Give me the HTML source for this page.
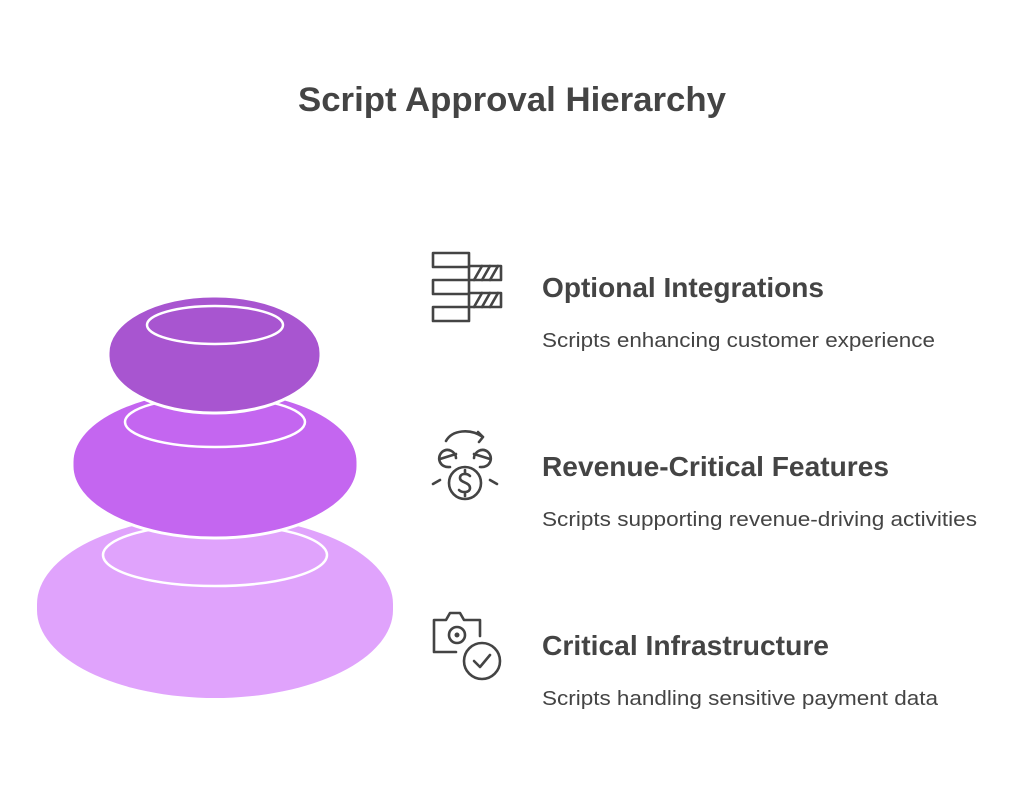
<!DOCTYPE html>
<html><head><meta charset="utf-8"><style>html,body{margin:0;padding:0;background:#fff}svg{display:block}</style></head>
<body>
<svg width="1024" height="789" viewBox="0 0 1024 789" xmlns="http://www.w3.org/2000/svg" font-family="'Liberation Sans', sans-serif">
<rect width="1024" height="789" fill="#fff"/>
<text x="298" y="111" font-size="34" font-weight="bold" fill="#444" textLength="428" lengthAdjust="spacingAndGlyphs">Script Approval Hierarchy</text>

<!-- stack -->
<rect x="37" y="516" width="356" height="182" rx="178" ry="88" fill="#e0a3fc"/>
<ellipse cx="215" cy="555" rx="112" ry="31" fill="none" stroke="#fff" stroke-width="2.5"/>
<rect x="72" y="390" width="286" height="148" rx="142" ry="72" fill="#c466f0" stroke="#fff" stroke-width="3"/>
<ellipse cx="215" cy="422" rx="90" ry="25" fill="none" stroke="#fff" stroke-width="2.5"/>
<rect x="108" y="296" width="213" height="117" rx="105" ry="57" fill="#a855d0" stroke="#fff" stroke-width="3"/>
<ellipse cx="215" cy="325" rx="68" ry="19" fill="none" stroke="#fff" stroke-width="2.5"/>

<!-- icons -->
<g fill="none" stroke="#444" stroke-width="2.6" stroke-linejoin="round" stroke-linecap="round">
  <rect x="433" y="253" width="36" height="14"/>
  <rect x="433" y="280" width="36" height="14"/>
  <rect x="433" y="307" width="36" height="14"/>
  <rect x="469" y="266" width="32" height="14"/>
  <rect x="469" y="293" width="32" height="14"/>
  <path d="M474 280 L482 266 M482 280 L490 266 M490 280 L498 266 M474 307 L482 293 M482 307 L490 293 M490 307 L498 293"/>
  <circle cx="465" cy="483" r="16"/>
  <path d="M470 476 C467 473 460 473 460 478 C460 483 470 482 470 488 C470 493 462 493 459 490 M465 470 V474 M465 492 V496"/>
  <path d="M446 441 C452 430 470 428 483 437 M478 432 L483 437 L479 442"/>
  <path d="M450 467 C440 468 436 458 442 452 C448 447 456 452 456 458 M440 459 L456 454"/>
  <path d="M480 467 C490 468 494 458 488 452 C482 447 474 452 474 458 M490 459 L474 454"/>
  <path d="M433 484 L440 480 M497 484 L490 480"/>
  <path d="M456 652 H434 V620 H446 L450 613 H460 L464 620 H480 V636"/>
  <circle cx="457" cy="635" r="8"/>
  <circle cx="482" cy="661" r="18"/>
  <path d="M474 661 L480 667 L490 655"/>
</g>
<circle cx="457" cy="635" r="2.5" fill="#444"/>

<!-- labels -->
<g fill="#444">
<text x="542" y="297" font-size="28" font-weight="bold" textLength="282" lengthAdjust="spacingAndGlyphs">Optional Integrations</text>
<text x="542" y="347" font-size="20" textLength="393" lengthAdjust="spacingAndGlyphs">Scripts enhancing customer experience</text>
<text x="542" y="476" font-size="28" font-weight="bold" textLength="347" lengthAdjust="spacingAndGlyphs">Revenue-Critical Features</text>
<text x="542" y="526" font-size="20" textLength="435" lengthAdjust="spacingAndGlyphs">Scripts supporting revenue-driving activities</text>
<text x="542" y="655" font-size="28" font-weight="bold" textLength="287" lengthAdjust="spacingAndGlyphs">Critical Infrastructure</text>
<text x="542" y="705" font-size="20" textLength="396" lengthAdjust="spacingAndGlyphs">Scripts handling sensitive payment data</text>
</g>
</svg>
</body></html>
